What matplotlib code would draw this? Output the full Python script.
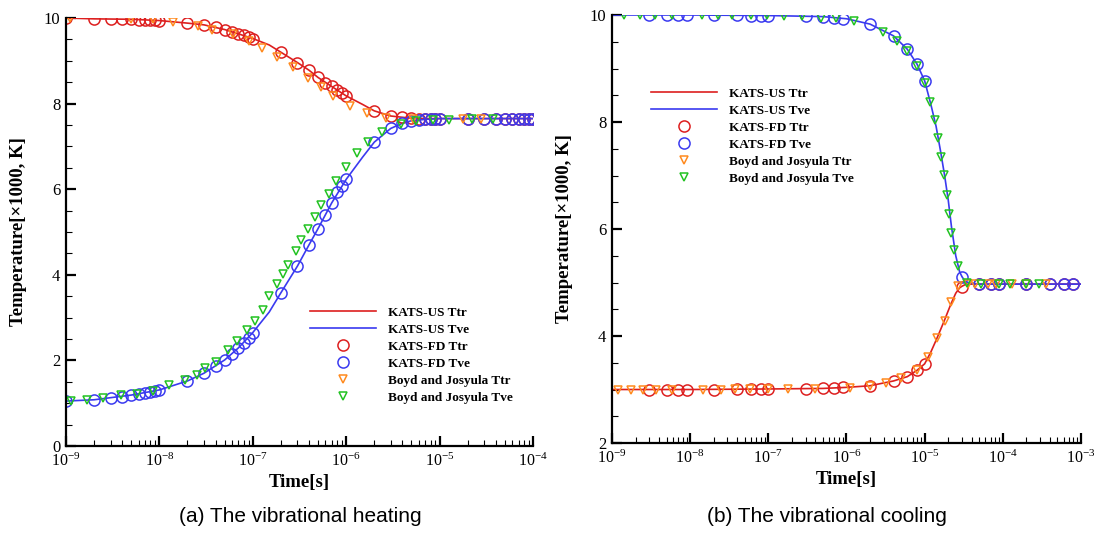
import numpy as np
import matplotlib
matplotlib.use("Agg")
import matplotlib.pyplot as plt
from matplotlib.ticker import LogLocator, MultipleLocator, NullFormatter

# ---- (a) vibrational heating ----
t_us_a = [1e-9, 2e-9, 5e-9, 1e-8, 2e-8, 3e-8, 5e-8, 7e-8, 1e-7, 1.5e-7, 2e-7, 3e-7, 4e-7,
          5e-7, 7e-7, 1e-6, 1.5e-6, 2e-6, 3e-6, 4e-6, 5e-6, 7e-6, 1e-5, 1e-4]
ttr_us_a = [10.0, 9.98, 9.97, 9.94, 9.88, 9.84, 9.73, 9.63, 9.52, 9.37, 9.20, 8.96, 8.78,
            8.61, 8.40, 8.18, 7.98, 7.83, 7.71, 7.68, 7.66, 7.65, 7.65, 7.65]
tve_us_a = [1.05, 1.08, 1.19, 1.31, 1.52, 1.70, 2.01, 2.29, 2.65, 3.13, 3.58, 4.20, 4.70,
            5.08, 5.68, 6.23, 6.75, 7.10, 7.42, 7.54, 7.60, 7.63, 7.65, 7.65]

t_fd_a = [1e-9, 2e-9, 3e-9, 4e-9, 5e-9, 6e-9, 7e-9, 8e-9, 9e-9,
          1e-8, 2e-8, 3e-8, 4e-8, 5e-8, 6e-8, 7e-8, 8e-8, 9e-8,
          1e-7, 2e-7, 3e-7, 4e-7, 5e-7, 6e-7, 7e-7, 8e-7, 9e-7,
          1e-6, 2e-6, 3e-6, 4e-6, 5e-6, 6e-6, 7e-6, 8e-6, 9e-6,
          1e-5, 2e-5, 3e-5, 4e-5, 5e-5, 6e-5, 7e-5, 8e-5, 9e-5, 1e-4]
ttr_fd_a = [10.0, 9.98, 9.98, 9.98, 9.97, 9.96, 9.96, 9.95, 9.95,
            9.94, 9.88, 9.84, 9.78, 9.73, 9.67, 9.63, 9.60, 9.56,
            9.52, 9.20, 8.96, 8.78, 8.61, 8.49, 8.40, 8.32, 8.24,
            8.18, 7.83, 7.71, 7.68, 7.66, 7.65, 7.65, 7.65, 7.65,
            7.65, 7.65, 7.65, 7.65, 7.65, 7.65, 7.65, 7.65, 7.65, 7.65]
tve_fd_a = [1.05, 1.08, 1.12, 1.15, 1.19, 1.21, 1.23, 1.26, 1.28,
            1.31, 1.52, 1.70, 1.86, 2.01, 2.15, 2.29, 2.40, 2.52,
            2.65, 3.58, 4.20, 4.70, 5.08, 5.40, 5.68, 5.93, 6.08,
            6.23, 7.10, 7.42, 7.54, 7.60, 7.62, 7.63, 7.64, 7.64,
            7.65, 7.65, 7.65, 7.65, 7.65, 7.65, 7.65, 7.65, 7.65, 7.65]

t_bj_ttr_a = [1.1e-9, 5e-9, 8.5e-9, 1.4e-8, 2.6e-8, 3.7e-8, 6.1e-8, 9e-8, 1.27e-7, 1.8e-7,
              2.7e-7, 3.9e-7, 5.4e-7, 7.2e-7, 1.1e-6, 1.66e-6, 2.7e-6, 5.2e-6, 1.8e-5, 2.8e-5]
bj_ttr_a = [10.0, 9.98, 9.97, 9.90, 9.81, 9.73, 9.63, 9.46, 9.31, 9.10,
            8.85, 8.59, 8.38, 8.18, 7.95, 7.79, 7.67, 7.65, 7.65, 7.65]
t_bj_tve_a = [1.12e-9, 1.66e-9, 2.5e-9, 3.9e-9, 5.8e-9, 8.6e-9, 1.28e-8, 1.87e-8, 2.5e-8,
              3.06e-8, 4.0e-8, 5.4e-8, 6.8e-8, 8.7e-8, 1.05e-7, 1.29e-7, 1.5e-7, 1.8e-7,
              2.1e-7, 2.4e-7, 2.9e-7, 3.3e-7, 3.9e-7, 4.6e-7, 5.4e-7, 6.5e-7, 7.8e-7,
              1.0e-6, 1.29e-6, 1.73e-6, 2.4e-6, 3.9e-6, 5.6e-6, 8.5e-6, 1.26e-5, 2.2e-5, 3.7e-5]
bj_tve_a = [1.06, 1.08, 1.12, 1.18, 1.22, 1.29, 1.43, 1.55, 1.66,
            1.82, 1.97, 2.25, 2.46, 2.72, 2.91, 3.17, 3.50, 3.79,
            4.03, 4.24, 4.55, 4.82, 5.08, 5.35, 5.62, 5.88, 6.19,
            6.53, 6.84, 7.10, 7.34, 7.52, 7.60, 7.62, 7.62, 7.63, 7.63]

# ---- (b) vibrational cooling ----
t_us_b = [1e-9, 1e-8, 1e-7, 5e-7, 1e-6, 2e-6, 4e-6, 6e-6, 8e-6, 1e-5, 1.2e-5, 1.4e-5,
          1.6e-5, 1.8e-5, 2.0e-5, 2.2e-5, 2.5e-5, 2.8e-5, 3e-5, 3.3e-5, 4e-5, 5e-5, 1e-3]
ttr_us_b = [3.00, 3.00, 3.01, 3.02, 3.04, 3.07, 3.16, 3.24, 3.36, 3.48, 3.70, 3.92,
            4.12, 4.30, 4.47, 4.62, 4.80, 4.90, 4.93, 4.96, 4.97, 4.97, 4.97]
tve_us_b = [10.0, 10.0, 9.99, 9.97, 9.93, 9.83, 9.61, 9.36, 9.08, 8.77, 8.33, 7.92,
            7.45, 7.00, 6.55, 6.05, 5.50, 5.20, 5.11, 5.02, 4.98, 4.97, 4.97]

t_fd_b = [3e-9, 5e-9, 7e-9, 9e-9, 2e-8, 4e-8, 6e-8, 8e-8, 1e-7, 3e-7, 5e-7, 7e-7, 9e-7,
          2e-6, 4e-6, 6e-6, 8e-6, 1e-5, 3e-5, 5e-5, 7e-5, 9e-5, 2e-4, 4e-4, 6e-4, 8e-4]
ttr_fd_b = [3.00, 3.00, 3.00, 3.00, 3.00, 3.01, 3.01, 3.01, 3.01, 3.01, 3.02, 3.02, 3.04,
            3.07, 3.16, 3.24, 3.36, 3.48, 4.91, 4.97, 4.97, 4.97, 4.97, 4.97, 4.97, 4.97]
tve_fd_b = [10.0, 10.0, 10.0, 10.0, 10.0, 10.0, 9.99, 9.99, 9.99, 9.99, 9.97, 9.94, 9.93,
            9.83, 9.61, 9.36, 9.08, 8.77, 5.11, 4.98, 4.97, 4.97, 4.97, 4.97, 4.97, 4.97]

t_bj_ttr_b = [1.2e-9, 1.75e-9, 2.5e-9, 3.7e-9, 5.8e-9, 1.47e-8, 2.45e-8, 3.7e-8, 5.8e-8,
              9.9e-8, 1.8e-7, 3.9e-7, 1.1e-6, 2e-6, 3.2e-6, 5e-6, 8e-6, 1.1e-5, 1.45e-5,
              1.8e-5, 2.2e-5, 2.7e-5, 3.6e-5, 4.4e-5, 6.5e-5, 8.3e-5, 1.3e-4, 2e-4, 3.6e-4]
bj_ttr_b = [3.00, 3.00, 3.00, 3.00, 3.00, 3.00, 3.00, 3.01, 3.01,
            3.01, 3.01, 3.01, 3.02, 3.07, 3.13, 3.21, 3.36, 3.61, 3.96,
            4.28, 4.64, 4.93, 4.97, 4.97, 4.97, 4.97, 4.97, 4.97, 4.97]
t_bj_tve_b = [1.42e-9, 2.3e-9, 3.6e-9, 5.8e-9, 1.4e-8, 2.3e-8, 3.4e-8, 6e-8, 9.6e-8,
              1.6e-7, 2.7e-7, 4.7e-7, 7.4e-7, 1.23e-6, 2.97e-6, 4.4e-6, 6e-6, 8e-6, 1e-5,
              1.17e-5, 1.35e-5, 1.48e-5, 1.64e-5, 1.79e-5, 1.95e-5, 2.05e-5, 2.2e-5, 2.4e-5,
              2.7e-5, 3.5e-5, 5.3e-5, 8.9e-5, 1.25e-4, 2e-4, 2.9e-4]
bj_tve_b = [10.0, 10.0, 10.0, 10.0, 10.0, 10.0, 10.0, 10.0, 10.0,
            9.99, 9.99, 9.95, 9.95, 9.88, 9.69, 9.52, 9.33, 9.05, 8.72,
            8.38, 8.04, 7.70, 7.35, 7.01, 6.64, 6.28, 5.92, 5.60,
            5.30, 4.99, 4.98, 4.97, 4.97, 4.97, 4.97]

captions = ["(a) The vibrational heating", "(b) The vibrational cooling"]

plt.rcParams.update({
    "font.family": "Liberation Serif",
    "mathtext.fontset": "custom",
    "mathtext.rm": "Liberation Serif",
    "mathtext.it": "Liberation Serif:italic",
    "mathtext.bf": "Liberation Serif:bold",
})

RED = "#dd1f1f"
BLUE = "#3a3af0"
ORANGE = "#ff8a1e"
GREEN = "#22c222"

fig = plt.figure(figsize=(10.94, 5.34), dpi=100)
ax_a = fig.add_axes([0.0603, 0.1648, 0.4269, 0.8015])
ax_b = fig.add_axes([0.5594, 0.1704, 0.4287, 0.8015])


def draw_panel(ax, t_us, ttr_us, tve_us, t_fd, ttr_fd, tve_fd,
               t_bj1, bj1, t_bj2, bj2):
    ax.plot(t_us, ttr_us, color=RED, lw=1.2, label="KATS-US Ttr")
    ax.plot(t_us, tve_us, color=BLUE, lw=1.2, label="KATS-US Tve")
    ax.plot(t_fd, ttr_fd, ls="none", marker="o", ms=8, mfc="none", mec=RED,
            mew=1.1, label="KATS-FD Ttr")
    ax.plot(t_fd, tve_fd, ls="none", marker="o", ms=8, mfc="none", mec=BLUE,
            mew=1.1, label="KATS-FD Tve")
    ax.plot(t_bj1, bj1, ls="none", marker="v", ms=6, mfc="none", mec=ORANGE,
            mew=1.1, label="Boyd and Josyula Ttr")
    ax.plot(t_bj2, bj2, ls="none", marker="v", ms=6, mfc="none", mec=GREEN,
            mew=1.1, label="Boyd and Josyula Tve")

    ax.set_xscale("log")
    ax.spines["top"].set_visible(False)
    ax.spines["right"].set_visible(False)
    for s in ("left", "bottom"):
        ax.spines[s].set_linewidth(1.6)
    ax.xaxis.set_major_locator(LogLocator(base=10, numticks=20))
    ax.xaxis.set_minor_locator(LogLocator(base=10, subs=np.arange(2, 10), numticks=20))
    ax.xaxis.set_minor_formatter(NullFormatter())
    ax.yaxis.set_major_locator(MultipleLocator(2))
    ax.yaxis.set_minor_locator(MultipleLocator(0.5))
    ax.tick_params(which="major", direction="in", length=7, width=1.6,
                   labelsize=12, pad=5)
    ax.tick_params(axis="x", which="major", labelsize=11.5)
    ax.tick_params(axis="y", which="major", pad=4)
    ax.tick_params(which="minor", direction="in", length=4, width=0.8)
    ax.set_xlabel("Time[s]", fontsize=13.5, fontweight="bold", labelpad=3)
    ax.set_ylabel("Temperature[\u00d71000, K]", fontsize=13.5, fontweight="bold",
                  labelpad=12)


draw_panel(ax_a, t_us_a, ttr_us_a, tve_us_a, t_fd_a, ttr_fd_a, tve_fd_a,
           t_bj_ttr_a, bj_ttr_a, t_bj_tve_a, bj_tve_a)
ax_a.set_xlim(1e-9, 1e-4)
ax_a.set_ylim(0, 10)

draw_panel(ax_b, t_us_b, ttr_us_b, tve_us_b, t_fd_b, ttr_fd_b, tve_fd_b,
           t_bj_ttr_b, bj_ttr_b, t_bj_tve_b, bj_tve_b)
ax_b.set_xlim(1e-9, 1e-3)
ax_b.set_ylim(2, 10)

legend_kw = dict(frameon=False, loc="upper left", borderpad=0, borderaxespad=0,
                 handlelength=5.0, handletextpad=0.9, labelspacing=0.36,
                 numpoints=1, prop={"family": "Liberation Serif", "weight": "bold",
                                    "size": 9.5})
ax_a.legend(bbox_to_anchor=(0.522, 0.326), **legend_kw)
ax_b.legend(bbox_to_anchor=(0.083, 0.831), **legend_kw)

cap_font = ["Liberation Sans Narrow", "Liberation Sans", "DejaVu Sans"]
fig.text(300 / 1094, 1 - 517 / 534, captions[0], ha="center", va="center",
         fontsize=15, family=cap_font)
fig.text(827 / 1094, 1 - 517 / 534, captions[1], ha="center", va="center",
         fontsize=15, family=cap_font)

fig.savefig("out.png", dpi=100)
